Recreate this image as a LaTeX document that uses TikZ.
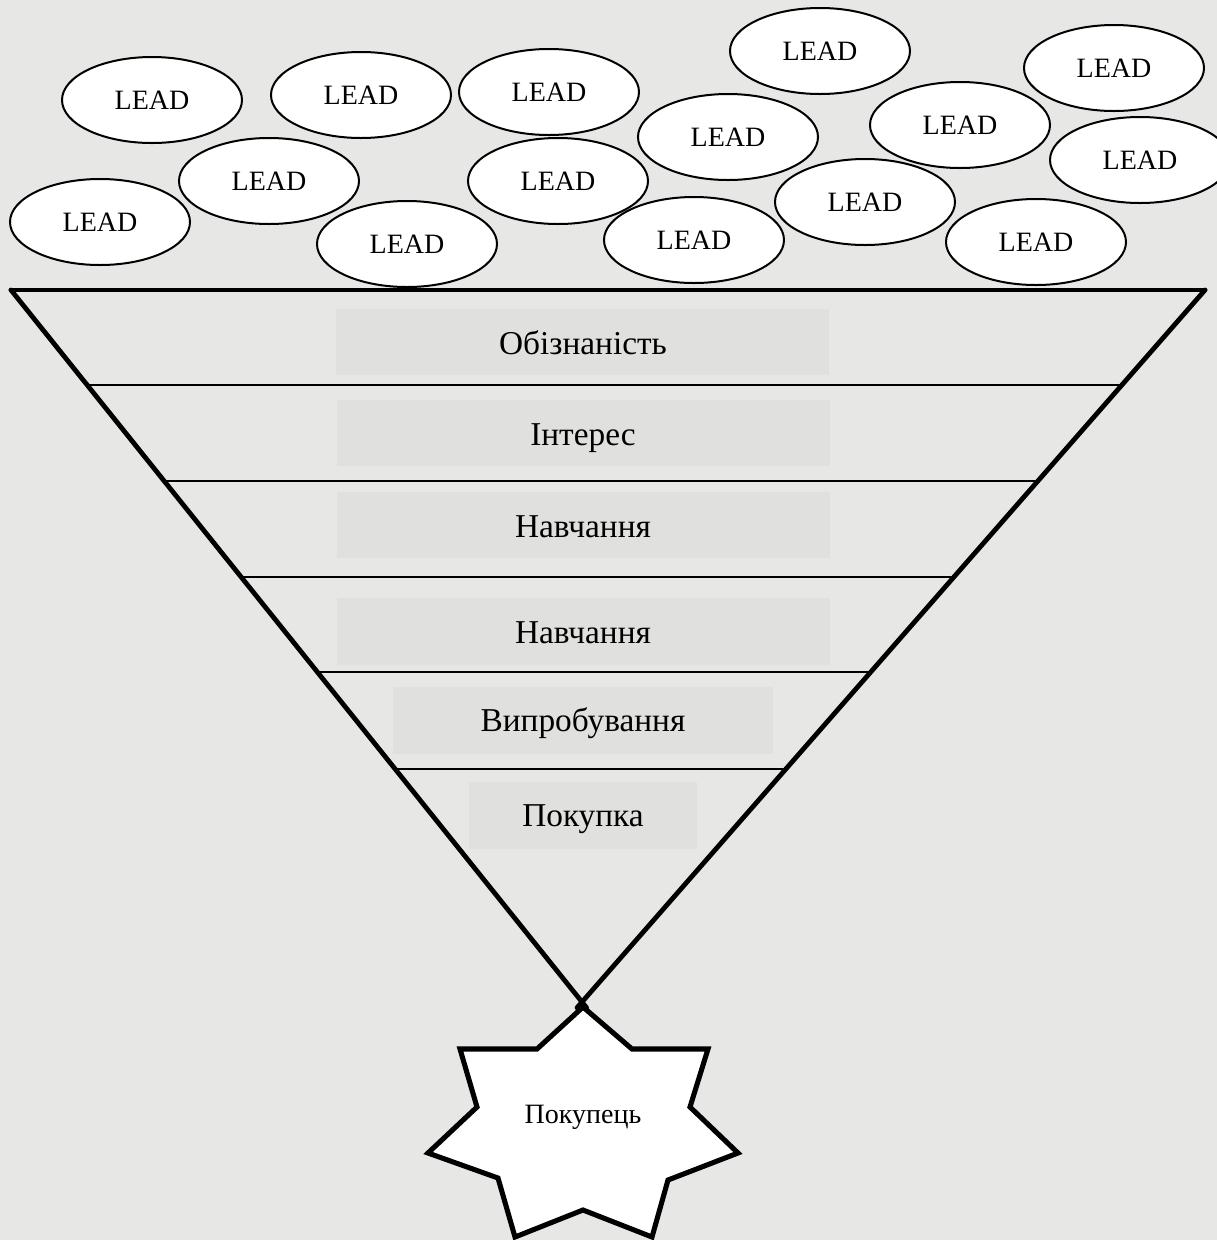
\documentclass[tikz,border=0pt]{standalone}
\usepackage{fontspec}
\setmainfont{Liberation Serif}
\usetikzlibrary{shapes.geometric,calc}
\definecolor{bgc}{HTML}{E7E7E5}
\definecolor{boxc}{HTML}{E0E0DE}
\tikzset{
  lead/.style={ellipse,draw=black,line width=1.5pt,fill=white,minimum width=135pt,minimum height=64.5pt,inner sep=0pt,font=\fontsize{21}{24}\selectfont},
  stage/.style={fill=boxc,minimum height=50pt,inner sep=0pt,font=\fontsize{25}{28}\selectfont},
  funnel/.style={line width=3.6pt,line cap=round,line join=round},
  divider/.style={line width=1.1pt},
}
\begin{document}
\begin{tikzpicture}[x=0.75pt,y=-0.75pt]
\fill[bgc] (0,0) rectangle (1217,1240);
\useasboundingbox (0,0) rectangle (1217,1240);
% leads
\node[lead] (l1) at (152,100) {LEAD};
\node[lead] (l2) at (361,95) {LEAD};
\node[lead] (l3) at (549,92) {LEAD};
\node[lead] (l4) at (820,51) {LEAD};
\node[lead] (l5) at (1114,68) {LEAD};
\node[lead] (l6) at (728,137) {LEAD};
\node[lead] (l7) at (960,125) {LEAD};
\node[lead] (l8) at (1140,160) {LEAD};
\node[lead] (l9) at (269,181) {LEAD};
\node[lead] (l10) at (558,181) {LEAD};
\node[lead] (l11) at (865,202) {LEAD};
\node[lead] (l12) at (100,222) {LEAD};
\node[lead] (l13) at (407,244) {LEAD};
\node[lead] (l14) at (694,240) {LEAD};
\node[lead] (l15) at (1036,242) {LEAD};
% funnel
\coordinate (TL) at (11,290);
\coordinate (TR) at (1205,290);
\coordinate (A) at (582,1002);
\fill[boxc] (336,309) rectangle (829,375);
\fill[boxc] (337,400) rectangle (830,466);
\fill[boxc] (337,492) rectangle (830,558);
\fill[boxc] (337,598) rectangle (830,665);
\fill[boxc] (393,687) rectangle (773,754);
\fill[boxc] (469,782) rectangle (697,849);
\node[stage,fill=none] (s1) at (583,343) {Обізнаність};
\node[stage,fill=none] (s2) at (583,438) {Інтерес};
\node[stage,fill=none] (s3) at (583,527) {Навчання};
\node[stage,fill=none] (s4) at (583,633) {Навчання};
\node[stage,fill=none] (s5) at (583,723) {Випробування};
\node[stage,fill=none] (s6) at (583,819) {Покупка};
\foreach \yy in {385,481,577,672,769}{
  \pgfmathsetmacro{\tf}{(\yy-290)/712}
  \draw[divider] ($(TL)!\tf!(A)$) -- ($(TR)!\tf!(A)$);
}
% star
\draw[line width=3.8pt,line join=miter,fill=white]
 (583,1007) -- (632,1049) -- (708,1049) -- (690,1107) -- (738,1153) -- (668,1180)
 -- (652,1237) -- (583,1210) -- (515,1237) -- (498,1178) -- (428,1153) -- (477,1107)
 -- (460,1049) -- (537,1049) -- cycle;
\draw[funnel] (TL) -- (TR);
\draw[funnel] (TL) -- ($(TL)!1.008!(A)$);
\draw[funnel] (TR) -- ($(TR)!1.008!(A)$);
\node[font=\fontsize{21}{24}\selectfont,inner sep=0pt] (buyer) at (583,1117) {Покупець};
\end{tikzpicture}
\end{document}
